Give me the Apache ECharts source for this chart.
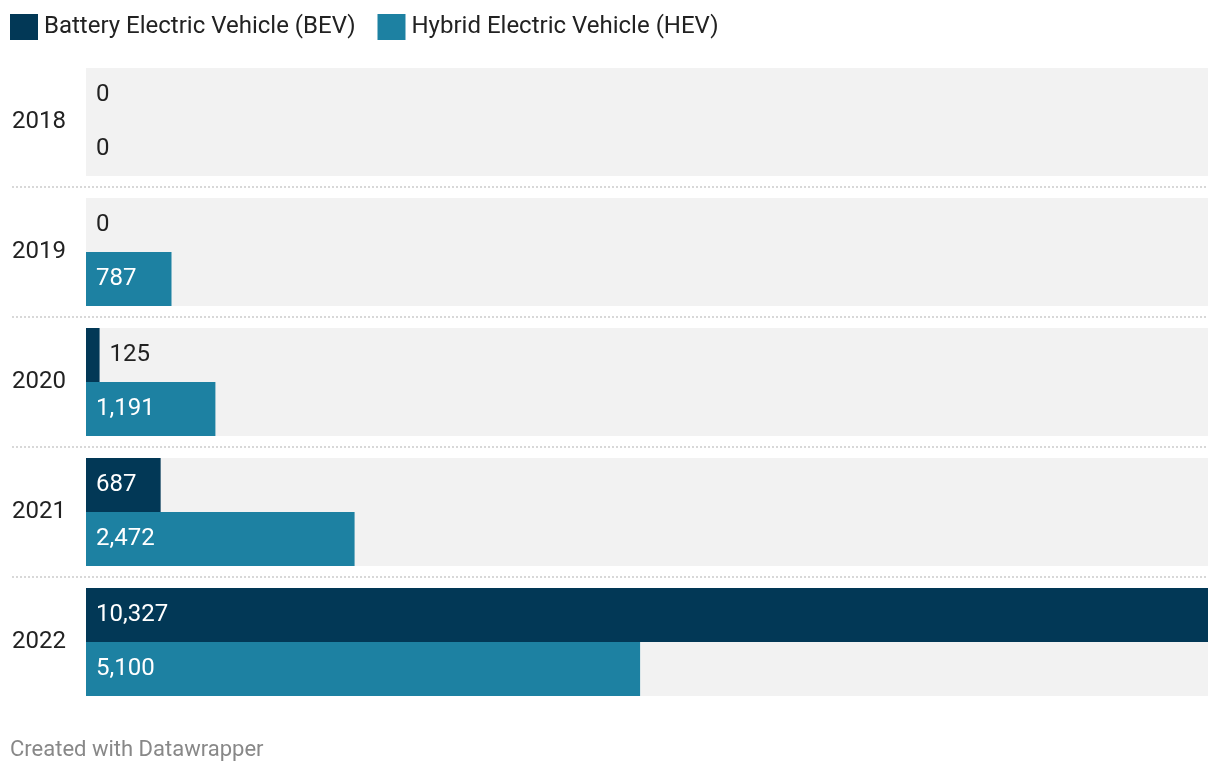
<!DOCTYPE html>
<html>
<head>
<meta charset="utf-8">
<script src="https://cdn.jsdelivr.net/npm/echarts@6/dist/echarts.min.js"></script>
<style>
html,body{margin:0;padding:0;background:#fff;}
#chart{width:1220px;height:774px;}
</style>
</head>
<body>
<div id="chart"></div>
<script>
const years = ['2018', '2019', '2020', '2021', '2022'];
const bevValues = [0, 0, 125, 687, 10327];
const hevValues = [0, 787, 1191, 2472, 5100];
const seriesNames = ['Battery Electric Vehicle (BEV)', 'Hybrid Electric Vehicle (HEV)'];
const seriesColors = ['#023856', '#1d81a2'];
const footerText = 'Created with Datawrapper';

const FONT = 'Roboto';
const TEXT = '#222222';
const insideThreshold = 500; // labels go inside bars wide enough to hold them

function withLabels(values) {
  return values.map(v => ({
    value: v,
    label: v >= insideThreshold
      ? { position: 'insideLeft', distance: 10, color: '#ffffff' }
      : { position: 'right', distance: 10, color: TEXT }
  }));
}

const chart = echarts.init(document.getElementById('chart'), null, { renderer: 'canvas' });

const labelBase = {
  show: true,
  fontFamily: FONT,
  fontSize: 24,
  padding: [3, 0, 0, 0],
  formatter: p => p.value.toLocaleString('en-US')
};

chart.setOption({
  animation: false,
  textStyle: { fontFamily: FONT },
  legend: {
    left: 10,
    top: 14,
    padding: 0,
    itemWidth: 28,
    itemHeight: 26,
    itemGap: 22,
    icon: 'rect',
    textStyle: { fontFamily: FONT, fontSize: 24, color: TEXT, padding: [4, 0, 0, 1] },
    data: seriesNames
  },
  grid: [
    { left: 12, right: 12, top: 57, bottom: 67 },
    { left: 86, right: 12, top: 57, bottom: 67 }
  ],
  xAxis: [
    { gridIndex: 0, type: 'value', show: false, min: 0, max: 1 },
    { gridIndex: 1, type: 'value', show: false, min: 0, max: 'dataMax' }
  ],
  yAxis: [
    {
      gridIndex: 0, type: 'category', inverse: true, data: years,
      axisLine: { show: false }, axisTick: { show: false }, axisLabel: { show: false },
      splitLine: { show: true, showMinLine: false, showMaxLine: false,
        lineStyle: { color: '#cccccc', width: 1.5, type: [2, 2] } }
    },
    {
      gridIndex: 1, type: 'category', inverse: true, data: years,
      axisLine: { show: false }, axisTick: { show: false }, splitLine: { show: false },
      axisLabel: { fontFamily: FONT, fontSize: 24, color: TEXT, align: 'left', margin: 74, padding: [3, 0, 0, 0] }
    }
  ],
  series: [
    {
      name: seriesNames[0], type: 'bar', xAxisIndex: 1, yAxisIndex: 1,
      data: withLabels(bevValues),
      itemStyle: { color: seriesColors[0] },
      barGap: '0%', barCategoryGap: '16.9%',
      showBackground: true, backgroundStyle: { color: '#f2f2f2' },
      label: labelBase
    },
    {
      name: seriesNames[1], type: 'bar', xAxisIndex: 1, yAxisIndex: 1,
      data: withLabels(hevValues),
      itemStyle: { color: seriesColors[1] },
      barGap: '0%', barCategoryGap: '16.9%',
      showBackground: true, backgroundStyle: { color: '#f2f2f2' },
      label: labelBase
    }
  ],
  graphic: [
    { type: 'text', left: 10, top: 739, style: { text: footerText, fontFamily: FONT, fontSize: 22, fill: '#888888' } }
  ]
});
</script>
</body>
</html>
